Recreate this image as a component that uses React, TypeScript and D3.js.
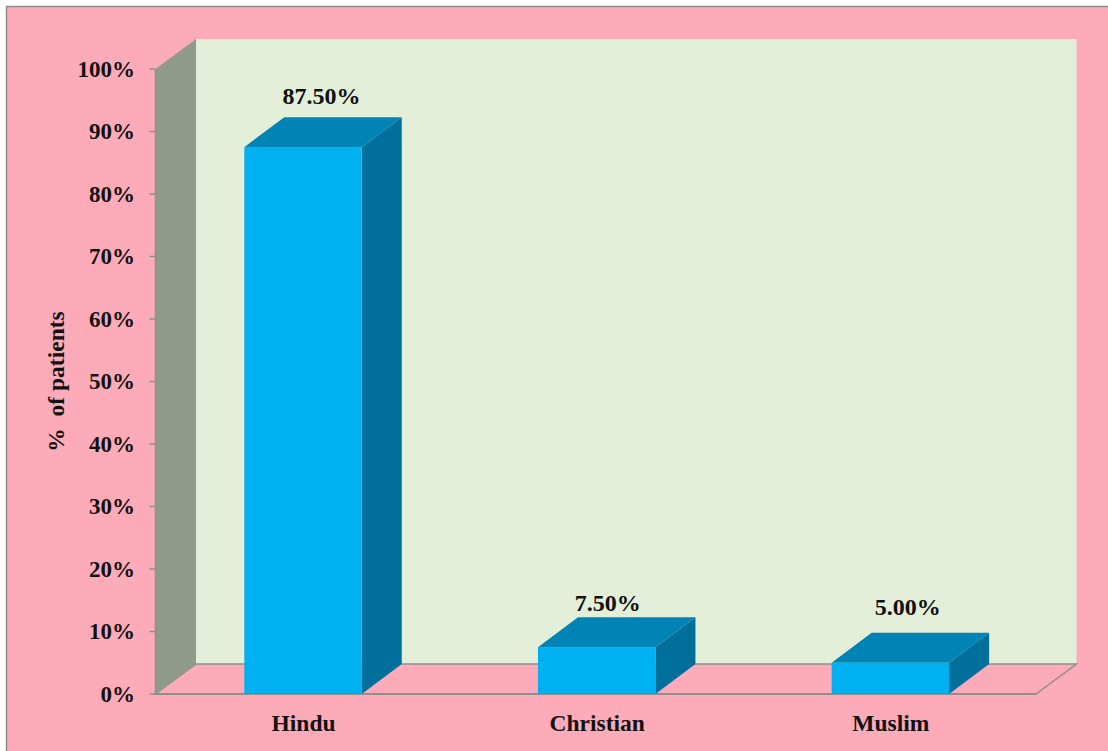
import React from "react";
import * as d3 from "d3";

const categories = ["Hindu", "Christian", "Muslim"];
const percentages = [87.5, 7.5, 5];
const valueLabels = ["87.50%", "7.50%", "5.00%"];
const labelLift = [51, 44.5, 56];
const labelShift = [18.5, 11, 17.5];
const axisTicks = [0, 10, 20, 30, 40, 50, 60, 70, 80, 90, 100];

const W = 1108;
const H = 751;
const SERIF = "'Liberation Serif', 'Times New Roman', serif";

const COLORS = {
  panel: "#fdabb9",
  border: "#8a8f8c",
  wall: "#e3efd9",
  sideWall: "#8f9a8b",
  rule: "#8d918e",
  barFront: "#00b0f0",
  barTop: "#0084b5",
  barSide: "#006f9b",
  ink: "#111111",
};

// Oblique projection of the plot box
const left = 155.5;
const right = 1036;
const depthX = 40.5;
const depthY = 30;
const barDepthX = 40;
const barDepthY = 30;

const y = d3.scaleLinear().domain([0, 100]).range([694, 69]);
const x = d3
  .scaleBand<string>()
  .domain(categories)
  .range([left + 0.7, right + 1.2])
  .paddingInner(0.6)
  .paddingOuter(0.3);

const poly = (pts: [number, number][]) => d3.line()(pts)! + "Z";

export default function App() {
  const y0 = y(0);
  const y100 = y(100);
  return (
    <svg
      width={W}
      height={H}
      viewBox={`0 0 ${W} ${H}`}
      style={{ position: "absolute", left: 0, top: 0, background: "#fff" }}
      fontFamily={SERIF}
      fontWeight="bold"
      fill={COLORS.ink}
    >
      <rect x={6.5} y={6.5} width={W} height={H} fill={COLORS.panel} stroke={COLORS.border} strokeWidth={1.5} />

      {/* back wall, floor and side wall */}
      <rect x={left + depthX} y={y100 - depthY} width={right - left} height={y0 - y100} fill={COLORS.wall} />
      <path
        d={poly([
          [left, y0],
          [left + depthX, y0 - depthY],
          [right + depthX, y0 - depthY],
          [right, y0],
        ])}
        fill={COLORS.panel}
        stroke={COLORS.rule}
        strokeWidth={1.5}
      />
      <path
        d={poly([
          [left, y0],
          [left + depthX, y0 - depthY],
          [left + depthX, y100 - depthY],
          [left, y100],
        ])}
        fill={COLORS.sideWall}
      />
      <line x1={left} x2={left} y1={y100} y2={y0} stroke={COLORS.rule} strokeWidth={1.5} />
      <line x1={left} x2={right} y1={y0} y2={y0} stroke={COLORS.rule} strokeWidth={2} />

      {/* value axis */}
      {axisTicks.map((t) => (
        <g key={t}>
          <line x1={left - 6} x2={left} y1={y(t)} y2={y(t)} stroke={COLORS.rule} strokeWidth={1.5} />
          <text x={135} y={y(t)} dy="0.34em" textAnchor="end" fontSize={23}>
            {t}%
          </text>
        </g>
      ))}
      <text transform="translate(64,381.5) rotate(-90)" textAnchor="middle" fontSize={23.5} xmlSpace="preserve">
        %  of patients
      </text>

      {/* bars */}
      {categories.map((c, i) => {
        const x0 = x(c)!;
        const x1 = x0 + x.bandwidth();
        const top = y(percentages[i]);
        return (
          <g key={c}>
            <path
              d={poly([
                [x1, top],
                [x1 + barDepthX, top - barDepthY],
                [x1 + barDepthX, y0 - barDepthY],
                [x1, y0],
              ])}
              fill={COLORS.barSide}
            />
            <path
              d={poly([
                [x0, top],
                [x0 + barDepthX, top - barDepthY],
                [x1 + barDepthX, top - barDepthY],
                [x1, top],
              ])}
              fill={COLORS.barTop}
            />
            <rect x={x0} y={top} width={x.bandwidth()} height={y0 - top} fill={COLORS.barFront} />
            <text x={(x0 + x1) / 2 + labelShift[i]} y={top - labelLift[i]} dy="0.34em" textAnchor="middle" fontSize={24}>
              {valueLabels[i]}
            </text>
            <text x={(x0 + x1) / 2 + 0.5} y={723} dy="0.34em" textAnchor="middle" fontSize={23.5}>
              {c}
            </text>
          </g>
        );
      })}
    </svg>
  );
}
